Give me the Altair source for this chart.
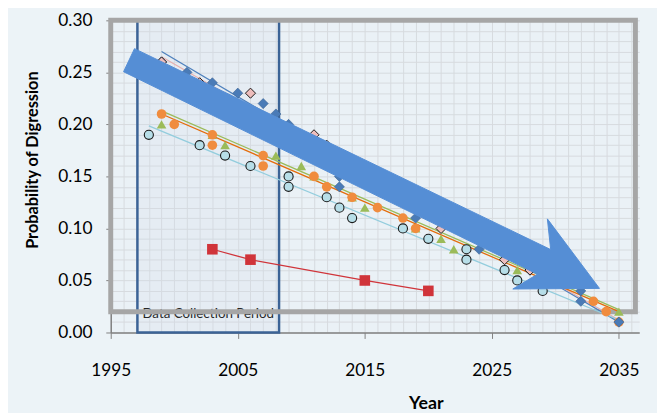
import altair as alt
import pandas as pd

# ---------------- data ----------------
blue_years = [1999, 2001, 2003, 2005, 2007, 2008, 2009, 2013, 2013, 2019, 2024, 2028, 2032, 2032, 2035]
blue_vals = [0.26, 0.25, 0.24, 0.23, 0.22, 0.21, 0.20, 0.15, 0.14, 0.11, 0.08, 0.06, 0.04, 0.03, 0.01]

pink_years = [1999, 2002, 2006, 2011, 2012, 2021, 2026, 2028]
pink_vals = [0.26, 0.24, 0.23, 0.19, 0.18, 0.10, 0.07, 0.06]

green_years = [1999, 2003, 2004, 2008, 2010, 2011, 2014, 2015, 2019, 2021, 2022, 2027, 2035]
green_vals = [0.20, 0.19, 0.18, 0.17, 0.16, 0.15, 0.13, 0.12, 0.10, 0.09, 0.08, 0.06, 0.02]

orange_years = [1999, 2000, 2003, 2003, 2007, 2007, 2011, 2012, 2014, 2016, 2018, 2019, 2033, 2034, 2035]
orange_vals = [0.21, 0.20, 0.19, 0.18, 0.17, 0.16, 0.15, 0.14, 0.13, 0.12, 0.11, 0.10, 0.03, 0.02, 0.01]

lightblue_years = [1998, 2002, 2004, 2006, 2009, 2009, 2012, 2013, 2014, 2018, 2020, 2023, 2023, 2026, 2027, 2029]
lightblue_vals = [0.19, 0.18, 0.17, 0.16, 0.15, 0.14, 0.13, 0.12, 0.11, 0.10, 0.09, 0.08, 0.07, 0.06, 0.05, 0.04]

red_years = [2003, 2006, 2015, 2020]
red_vals = [0.08, 0.07, 0.05, 0.04]

# trend lines (start / end)
trend_series = ["blue", "pink", "orange", "green", "lightblue"]
trend_start_year = [1999, 1999, 1999, 1999, 1998]
trend_start_val = [0.270, 0.265, 0.210, 0.213, 0.1985]
trend_end_year = [2035, 2035, 2035, 2035, 2035]
trend_end_val = [0.010, 0.012, 0.020, 0.022, 0.012]

# annotations
period_label = "Data Collection Period"
period_start, period_end = 1997.1, 2008.25
frame_x = [1995.0, 2036.3]
frame_y = [0.02, 0.30]
arrow_years = [1996.87, 2029.63, 2029.37, 2033.47, 2026.65, 2028.59, 1996.01]
arrow_vals = [0.2728, 0.0797, 0.1092, 0.0424, 0.0418, 0.0560, 0.2506]

x_ticks = list(range(1995, 2037))
y_ticks = [round(i / 100, 2) for i in range(0, 31)]

# ---------------- scales / axes ----------------
FONT = "Lato"
x_scale = alt.Scale(domain=[1995, 2036.6], nice=False, zero=False)
y_scale = alt.Scale(domain=[0, 0.30], nice=False, zero=False)

x_axis = alt.Axis(
    values=x_ticks,
    labelExpr="datum.value % 10 == 5 ? format(datum.value, 'd') : ''",
    labelOverlap=False, labelFlush=False,
    grid=True, gridColor="#D6DADE", gridWidth=1,
    tickSize=6, tickColor="#808080",
    tickOpacity={"condition": {"test": "datum.value % 10 == 5", "value": 1}, "value": 0},
    domainColor="#808080", domainWidth=1.5,
    labelFont=FONT, labelFontSize=17.5, labelColor="#000000", labelPadding=24,
    title="Year", titleFont=FONT, titleFontSize=18, titleFontWeight="bold", titleColor="#000000",
    titleX=319, titleY=77, titleBaseline="alphabetic", titleAlign="center",
)
y_axis = alt.Axis(
    values=y_ticks,
    labelExpr="round(datum.value * 100) % 5 == 0 ? format(datum.value, '.2f') : ''",
    labelOverlap=False, labelFlush=False,
    grid=True, gridColor="#D6DADE", gridWidth=1,
    tickSize=5, tickColor="#808080",
    tickOpacity={"condition": {"test": "round(datum.value * 100) % 5 == 0", "value": 1}, "value": 0},
    domainColor="#808080", domainWidth=1.5,
    labelFont=FONT, labelFontSize=17.5, labelColor="#000000", labelPadding=14,
    title="Probability of Digression", titleFont=FONT, titleFontSize=16.5, titleFontWeight="bold",
    titleColor="#000000", titleX=-79.5, titleY=141, titleBaseline="middle", titleAlign="center",
    titleAngle=270,
)


def X(f):
    return alt.X(f, type="quantitative", scale=x_scale, axis=x_axis)


def Y(f):
    return alt.Y(f, type="quantitative", scale=y_scale, axis=y_axis)


# ---------------- layers ----------------
period_df = pd.DataFrame({"x0": [period_start], "x1": [period_end], "y0": [0.0], "y1": [0.30],
                          "xm": [(period_start + period_end) / 2], "label": [period_label], "ty": [0.018]})
period_rect = alt.Chart(period_df).mark_rect(
    fill="#D3DDEA", fillOpacity=0.2, stroke="#3B6396", strokeWidth=2.5
).encode(x=X("x0"), x2="x1", y=Y("y0"), y2="y1")
period_text = alt.Chart(period_df).mark_text(
    font=FONT, fontSize=13.5, color="#262626", baseline="middle", align="center"
).encode(x=X("xm"), y=Y("ty"), text="label:N")

frame_df = pd.DataFrame({"x0": [frame_x[0]], "x1": [frame_x[1]], "y0": [frame_y[0]], "y1": [frame_y[1]]})
frame = alt.Chart(frame_df).mark_rect(
    fillOpacity=0, fill="#ffffff", stroke="#A6A6A6", strokeWidth=5
).encode(x=X("x0"), x2="x1", y=Y("y0"), y2="y1")

trend_colors = {"blue": "#4F81BD", "pink": "#E6B0AF", "orange": "#E46C0A",
                "green": "#9BBB59", "lightblue": "#93CDDD"}
trend_layers = []
for i, s in enumerate(trend_series):
    df = pd.DataFrame({"year": [trend_start_year[i], trend_end_year[i]],
                       "p": [trend_start_val[i], trend_end_val[i]]})
    trend_layers.append(
        alt.Chart(df).mark_line(color=trend_colors[s], strokeWidth=1.3).encode(x=X("year"), y=Y("p"))
    )

red_df = pd.DataFrame({"year": red_years, "p": red_vals})
red_line = alt.Chart(red_df).mark_line(color="#D0343A", strokeWidth=1.3).encode(x=X("year"), y=Y("p"))


def point_layer(years, vals, shape, fill, stroke, size, sw):
    df = pd.DataFrame({"year": years, "p": vals})
    return alt.Chart(df).mark_point(
        shape=shape, filled=True, fill=fill, stroke=stroke, strokeWidth=sw, size=size, opacity=1
    ).encode(x=X("year"), y=Y("p"))


pts_green = point_layer(green_years, green_vals, "triangle-up", "#9BBB59", "#9BBB59", 95, 0)
pts_orange = point_layer(orange_years, orange_vals, "circle", "#F08C3E", "#F08C3E", 95, 0)
pts_blue = point_layer(blue_years, blue_vals, "diamond", "#4A7BB7", "#3A6190", 105, 0.6)
pts_pink = point_layer(pink_years, pink_vals, "diamond", "#EDBDBC", "#1A1A1A", 105, 1)
pts_lb = point_layer(lightblue_years, lightblue_vals, "circle", "#B7DEE8", "#1A1A1A", 85, 1.1)
pts_red = point_layer(red_years, red_vals, "square", "#D0343A", "#D0343A", 115, 0)

arrow_df = pd.DataFrame({"year": arrow_years + [arrow_years[0]],
                         "p": arrow_vals + [arrow_vals[0]],
                         "idx": list(range(len(arrow_years) + 1))})
arrow = alt.Chart(arrow_df).mark_line(
    fill="#558ED5", stroke="#558ED5", strokeWidth=1, interpolate="linear"
).encode(x=X("year"), y=Y("p"), order=alt.Order("idx:Q"))

chart = alt.layer(
    period_rect, period_text, frame,
    *trend_layers, red_line,
    pts_green, pts_orange, pts_blue, pts_pink, pts_lb, pts_red,
    arrow,
).properties(
    width=535, height=316,
    autosize=alt.AutoSizeParams(type="none"),
    padding={"left": 104, "top": 10, "right": 18, "bottom": 79},
    background="#ECF3F7",
).configure_view(fill="#EAF1F6", strokeWidth=0)

chart.save("out.html", embed_options={"renderer": "svg", "actions": False})
